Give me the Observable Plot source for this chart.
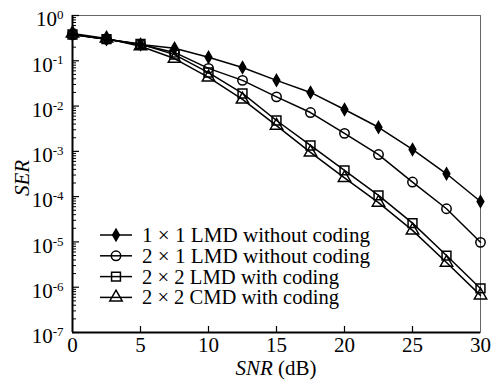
<!DOCTYPE html>
<html><head><meta charset="utf-8">
<script src="https://cdn.jsdelivr.net/npm/d3@7"></script>
<script src="https://cdn.jsdelivr.net/npm/@observablehq/plot@0.6"></script>
<style>body{margin:0;background:#fff} svg text{font-family:'Liberation Serif','Times New Roman',serif !important;}</style>
</head><body><div id="chart"></div>
<script>
const snr = [0, 2.5, 5, 7.5, 10, 12.5, 15, 17.5, 20, 22.5, 25, 27.5, 30];
const ser1x1LMD = [0.38, 0.30, 0.23, 0.19, 0.12, 0.071, 0.037, 0.020, 0.0084, 0.0034, 0.0011, 3.2e-4, 7.8e-5];
const ser2x1LMD = [0.38, 0.30, 0.23, 0.153, 0.068, 0.037, 0.016, 0.0072, 0.0025, 8.5e-4, 2.1e-4, 5.4e-5, 9.8e-6];
const ser2x2LMD = [0.38, 0.30, 0.235, 0.137, 0.055, 0.019, 0.0048, 0.00135, 3.8e-4, 1.07e-4, 2.6e-5, 5.0e-6, 9.4e-7];
const ser2x2CMD = [0.40, 0.31, 0.21, 0.112, 0.043, 0.014, 0.0037, 9.5e-4, 2.6e-4, 7.4e-5, 1.8e-5, 3.5e-6, 6.6e-7];
const seriesNames = ["1 × 1 LMD without coding", "2 × 1 LMD without coding", "2 × 2 LMD with coding", "2 × 2 CMD with coding"];
const seriesSymbols = ["diamond", "circle", "square", "triangle"];
const seriesFills = ["black", "none", "none", "none"];
const seriesR = [3.5, 4.7, 5.0, 4.6];
const yTicks = [1, 1e-1, 1e-2, 1e-3, 1e-4, 1e-5, 1e-6, 1e-7];
const xTicks = [0, 5, 10, 15, 20, 25, 30];
const seriesValues = [ser1x1LMD, ser2x1LMD, ser2x2LMD, ser2x2CMD];

const minorTicks = [];
for (let e = -7; e < 0; e++) for (let m = 2; m <= 9; m++) minorTicks.push(m * Math.pow(10, e));

const rows = seriesValues.map((vals, i) => vals.map((v, j) => ({x: snr[j], y: v, s: i}))).flat();

const font = "'Liberation Serif', 'Times New Roman', serif";
const FS = 21;
const LFS = 20;
const marks = [
  Plot.frame({stroke: "#666", strokeWidth: 1}),
  Plot.tickY(minorTicks, {y: d => d, insetRight: 404, stroke: "black", strokeWidth: 1}),
  Plot.tickY(yTicks, {y: d => d, insetRight: 401, stroke: "black", strokeWidth: 1.2}),
  Plot.tickX(xTicks.slice(1, -1), {x: d => d, insetTop: 311, stroke: "black", strokeWidth: 1.2}),
  Plot.ruleX([0], {stroke: "black", strokeWidth: 2}),
  Plot.ruleY([1e-7], {stroke: "black", strokeWidth: 2}),
  Plot.axisX({ticks: xTicks, tickSize: 0, tickPadding: 5, fontSize: FS, label: null, tickFormat: d => String(d)}),
  Plot.axisY({ticks: yTicks, tickSize: 0, tickPadding: 9, fontSize: FS, label: null, dy: 4, tickFormat: d => String(Math.round(Math.log10(d)))})
];
seriesValues.forEach((vals, i) => {
  const data = rows.filter(r => r.s === i);
  marks.push(Plot.line(data, {x: "x", y: "y", stroke: "black", strokeWidth: 1.5}));
  marks.push(Plot.dot(data, {x: "x", y: "y", symbol: () => seriesSymbols[i], r: seriesR[i], fill: seriesFills[i], stroke: "black", strokeWidth: 1.5}));
});

const chart = Plot.plot({
  width: 498, height: 386,
  marginLeft: 72, marginRight: 18, marginTop: 15, marginBottom: 54,
  style: {fontFamily: font, fontSize: FS + "px", background: "white", color: "black"},
  x: {domain: [0, 30]},
  y: {type: "log", domain: [1e-7, 1]},
  marks
});
document.getElementById("chart").appendChild(chart);

const svg = d3.select(chart);
// superscript exponents
svg.selectAll('g[aria-label="y-axis tick label"] text').each(function() {
  const t = d3.select(this);
  const e = t.text().replace("−", "-");
  t.text("10");
  t.append("tspan").style("font-size", "13px").attr("dy", "-0.55em").text(e === "0" ? "0" : e);
});
// axis labels
svg.append("text").attr("x", 276).attr("y", 375).attr("text-anchor", "middle")
  .style("font-size", FS + "px")
  .call(t => { t.append("tspan").attr("font-style", "italic").text("SNR"); t.append("tspan").text(" (dB)"); });
svg.append("text").attr("transform", "translate(29,178) rotate(-90)").attr("text-anchor", "middle")
  .style("font-size", FS + "px").attr("font-style", "italic").attr("fill", "black").text("SER");
// legend
const lg = svg.append("g");
seriesNames.forEach((name, i) => {
  const cy = 235 + i * 20.8;
  lg.append("line").attr("x1", 100).attr("x2", 132).attr("y1", cy).attr("y2", cy).attr("stroke", "black").attr("stroke-width", 1.5);
  const sym = {diamond: d3.symbolDiamond, circle: d3.symbolCircle, square: d3.symbolSquare, triangle: d3.symbolTriangle}[seriesSymbols[i]];
  lg.append("path").attr("transform", `translate(116,${cy})`).attr("d", d3.symbol(sym, Math.PI * seriesR[i] * seriesR[i])())
    .attr("fill", seriesFills[i]).attr("stroke", "black").attr("stroke-width", 1.5);
  lg.append("text").attr("x", 142).attr("y", cy + 7).attr("text-anchor", "start").style("font-size", LFS + "px")
    .attr("textLength", i < 2 ? 228 : 197).attr("lengthAdjust", "spacingAndGlyphs").text(name);
});
svg.selectAll("text").style("font-family", font);
</script>
</body></html>
